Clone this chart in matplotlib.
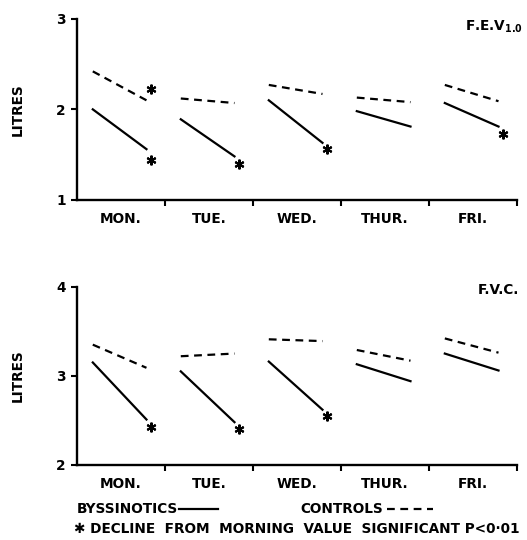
import numpy as np
import matplotlib
matplotlib.use("Agg")
import matplotlib.pyplot as plt

## Dias de la semana
dias = ["MON.", "TUE.", "WED.", "THUR.", "FRI."]

## FEV 1.0 (manana -> tarde)
fev_bys_am = [2.00, 1.89, 2.10, 1.98, 2.07]
fev_bys_pm = [1.56, 1.48, 1.63, 1.81, 1.81]
fev_con_am = [2.42, 2.12, 2.27, 2.13, 2.27]
fev_con_pm = [2.10, 2.07, 2.17, 2.08, 2.09]
## asteriscos (dia, valor)
fev_star_dia = [0, 0, 1, 2, 4]
fev_star_val = [1.44, 2.23, 1.40, 1.56, 1.73]

## FVC
fvc_bys_am = [3.15, 3.05, 3.16, 3.13, 3.25]
fvc_bys_pm = [2.51, 2.48, 2.62, 2.94, 3.06]
fvc_con_am = [3.35, 3.22, 3.41, 3.29, 3.42]
fvc_con_pm = [3.09, 3.25, 3.39, 3.17, 3.26]
fvc_star_dia = [0, 1, 2]
fvc_star_val = [2.43, 2.40, 2.55]

X_AM = 0.18
X_PM = 0.79
X_STAR = 0.84

fuente = dict(family="DejaVu Sans", fontweight="bold", fontsize=9.8)


def panel(ax, bys_am, bys_pm, con_am, con_pm, star_dia, star_val, ylim):
    for i in range(len(dias)):
        ax.plot([i + X_AM, i + X_PM], [bys_am[i], bys_pm[i]], color="black", lw=1.6)
        ax.plot([i + X_AM, i + X_PM], [con_am[i], con_pm[i]], color="black", lw=1.6,
                linestyle=(0, (3.5, 2.5)))
    ax.plot(np.array(star_dia) + X_STAR, star_val, linestyle="none", marker=(6, 2, 0),
            markersize=7, markeredgewidth=1.5, color="black")
    ax.set_xlim(0, 5)
    ax.set_ylim(*ylim)
    ax.set_yticks(np.arange(ylim[0], ylim[1] + 1))
    ax.set_yticklabels([str(int(v)) for v in np.arange(ylim[0], ylim[1] + 1)], **fuente)
    ax.set_xticks([1, 2, 3, 4, 5])
    ax.set_xticklabels([])
    ax.set_xticks(np.arange(5) + 0.5, minor=True)
    ax.set_xticklabels(dias, minor=True, **fuente)
    ax.tick_params(axis="x", which="minor", length=0, pad=9)
    ax.tick_params(axis="x", which="major", length=4, width=1.5, direction="out")
    ax.tick_params(axis="y", length=4, width=1.5, direction="out", pad=4)
    for s in ["top", "right"]:
        ax.spines[s].set_visible(False)
    for s in ["left", "bottom"]:
        ax.spines[s].set_linewidth(1.7)
    ax.set_ylabel("LITRES", labelpad=23, **fuente)


fig = plt.figure(figsize=(5.27, 5.40), dpi=100)
ax1 = fig.add_axes([0.146, 0.630, 0.835, 0.335])
ax2 = fig.add_axes([0.146, 0.139, 0.835, 0.330])

panel(ax1, fev_bys_am, fev_bys_pm, fev_con_am, fev_con_pm, fev_star_dia, fev_star_val, (1, 3))
panel(ax2, fvc_bys_am, fvc_bys_pm, fvc_con_am, fvc_con_pm, fvc_star_dia, fvc_star_val, (2, 4))

fig.text(0.993, 0.950, r"F.E.V$_{\mathbf{1.0}}$", ha="right", va="center", **fuente)
fig.text(0.985, 0.463, "F.V.C.", ha="right", va="center", **fuente)

## Leyenda
fig.text(0.146, 0.058, "BYSSINOTICS", ha="left", va="center", **fuente)
fig.add_artist(plt.Line2D([0.340, 0.414], [0.058, 0.058], color="black", lw=1.6))
fig.text(0.570, 0.058, "CONTROLS", ha="left", va="center", **fuente)
fig.add_artist(plt.Line2D([0.735, 0.822], [0.058, 0.058], color="black", lw=1.6,
                          linestyle=(0, (3.5, 2.5))))
fig.text(0.140, 0.020, "\u2731 DECLINE  FROM  MORNING  VALUE  SIGNIFICANT P<0\u00b701",
         ha="left", va="center", **fuente)

fig.savefig("out.png", dpi=100)
